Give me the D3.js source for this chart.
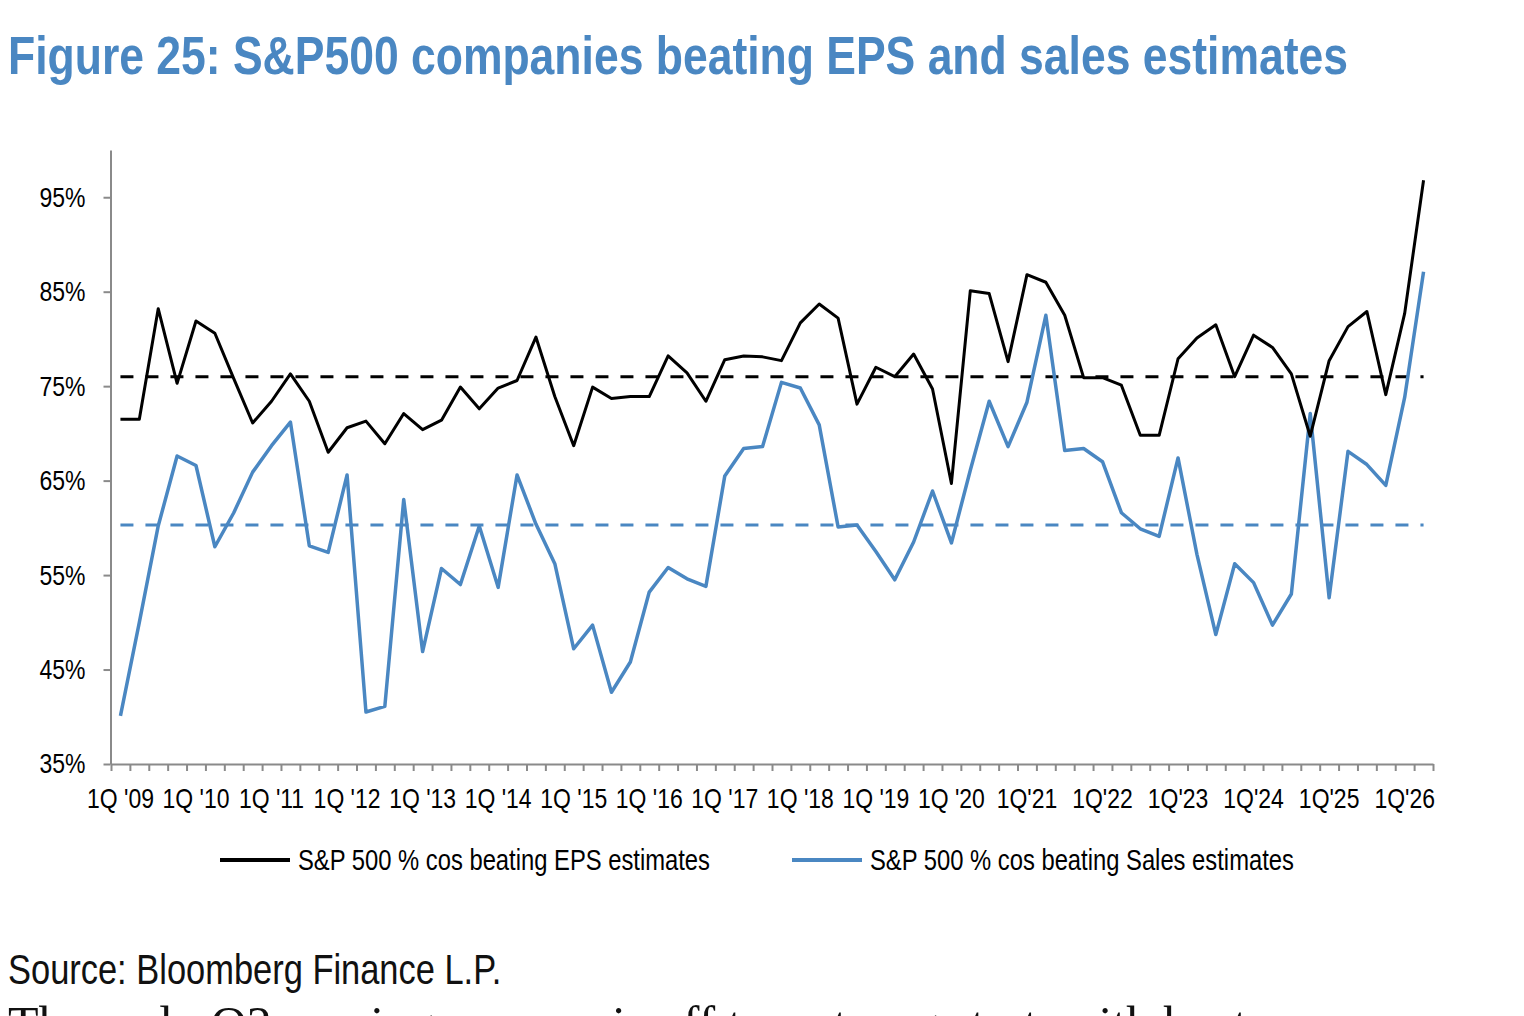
<!DOCTYPE html>
<html>
<head>
<meta charset="utf-8">
<script src="https://cdn.jsdelivr.net/npm/d3@7"></script>
<style>
  body { margin: 0; background: #fff; }
  svg { display: block; }
  .narrow { font-family: "Liberation Sans Narrow", "Arial Narrow", "Liberation Sans", Arial, sans-serif; }
</style>
</head>
<body>
<div id="chart"></div>
<script>
// quarters 1Q'09 .. 2Q'26
const years = d3.range(2009, 2027);
const quarters = years.flatMap(y => [1, 2, 3, 4].map(q => q + "Q" + y)).slice(0, 70);

const yearLabels = ["1Q '09", "1Q '10", "1Q '11", "1Q '12", "1Q '13", "1Q '14", "1Q '15", "1Q '16", "1Q '17",
  "1Q '18", "1Q '19", "1Q '20", "1Q'21", "1Q'22", "1Q'23", "1Q'24", "1Q'25", "1Q'26"];

const yTicks = [35, 45, 55, 65, 75, 85, 95];

const epsBeat = [
  71.5, 71.5, 83.2, 75.3, 81.9, 80.6, 75.8, 71.1, 73.4, 76.3,
  73.4, 68.0, 70.6, 71.3, 68.9, 72.1, 70.4, 71.4, 74.9, 72.6,
  74.8, 75.6, 80.2, 73.9, 68.7, 74.9, 73.7, 73.9, 73.9, 78.2,
  76.4, 73.4, 77.8, 78.2, 78.1, 77.7, 81.7, 83.7, 82.2, 73.1,
  77.0, 76.0, 78.4, 74.7, 64.7, 85.1, 84.8, 77.6, 86.8, 86.0,
  82.5, 75.9, 75.9, 75.1, 69.8, 69.8, 77.9, 80.1, 81.5, 76.0,
  80.4, 79.1, 76.3, 69.7, 77.7, 81.3, 82.9, 74.1, 82.7, 96.8
];

const salesBeat = [
  40.1, 50.0, 60.2, 67.6, 66.6, 58.0, 61.6, 65.9, 68.7, 71.2,
  58.1, 57.4, 65.6, 40.5, 41.1, 63.0, 46.9, 55.7, 54.0, 60.2,
  53.7, 65.6, 60.4, 56.2, 47.2, 49.7, 42.6, 45.8, 53.2, 55.8,
  54.6, 53.8, 65.5, 68.4, 68.6, 75.4, 74.8, 70.9, 60.1, 60.3,
  57.5, 54.5, 58.5, 63.9, 58.4, 66.1, 73.4, 68.6, 73.3, 82.5,
  68.2, 68.4, 67.0, 61.6, 59.9, 59.1, 67.4, 57.2, 48.7, 56.2,
  54.2, 49.7, 53.0, 72.1, 52.6, 68.1, 66.7, 64.5, 73.8, 87.1
];

// long-run averages (dashed)
const epsAvg = 76.0;
const salesAvg = 60.3;

const blue = "#4a87c2";
const axisGrey = "#8a8a8a";

const width = 1524, height = 1016;
const plot = { left: 111, right: 1433, top: 150, bottom: 764 };

const svg = d3.select("#chart").append("svg")
  .attr("width", width)
  .attr("height", height);

// Title
svg.append("text")
  .attr("class", "narrow")
  .attr("x", 8)
  .attr("y", 74)
  .attr("font-size", 54)
  .attr("font-weight", "bold")
  .attr("fill", blue)
  .attr("textLength", 1340)
  .attr("lengthAdjust", "spacingAndGlyphs")
  .text("Figure 25: S&P500 companies beating EPS and sales estimates");

// Scales
const x = d3.scaleBand()
  .domain(quarters)
  .range([plot.left, plot.right])
  .padding(0);

const xEdge = d3.scaleLinear()
  .domain([0, quarters.length])
  .range([plot.left, plot.right]);

const y = d3.scaleLinear()
  .domain([35, 100])
  .range([plot.bottom, plot.top]);

const cx = d => x(d) + x.bandwidth() / 2;

// Y axis
const yAxis = svg.append("g")
  .attr("transform", `translate(${plot.left - 0.5},0)`)
  .call(d3.axisLeft(y).tickValues(yTicks).tickSize(7).tickSizeOuter(0).tickPadding(18).tickFormat(d => d + "%"));
yAxis.select(".domain").attr("stroke", axisGrey).attr("stroke-width", 2);
yAxis.selectAll(".tick line").attr("stroke", axisGrey).attr("stroke-width", 2);
yAxis.selectAll("text").attr("class", "narrow").attr("font-size", 28).attr("fill", "#000");

// X axis: quarterly tick marks at band edges
const xTicks = svg.append("g")
  .attr("transform", `translate(0,${plot.bottom})`)
  .call(d3.axisBottom(xEdge).tickValues(d3.range(quarters.length + 1)).tickSize(7).tickSizeOuter(0).tickFormat(""));
xTicks.select(".domain").attr("stroke", axisGrey).attr("stroke-width", 2);
xTicks.selectAll(".tick line").attr("stroke", axisGrey).attr("stroke-width", 2);

// X axis labels: every 1Q, centred on the category
const firstQs = quarters.filter((q, i) => i % 4 === 0);
const xLabels = svg.append("g")
  .attr("transform", `translate(0,${plot.bottom})`)
  .call(d3.axisBottom(x).tickValues(firstQs).tickSize(0).tickPadding(24)
    .tickFormat((d, i) => yearLabels[i]));
xLabels.select(".domain").remove();
xLabels.selectAll("text").attr("class", "narrow").attr("font-size", 28).attr("fill", "#000");

// Average lines
const avgLine = (val, color) => svg.append("line")
  .attr("x1", cx(quarters[0]))
  .attr("x2", cx(quarters[quarters.length - 1]))
  .attr("y1", y(val))
  .attr("y2", y(val))
  .attr("stroke", color)
  .attr("stroke-width", 3)
  .attr("stroke-dasharray", "13,12");

avgLine(epsAvg, "#000");
avgLine(salesAvg, blue);

// Series lines
const line = d3.line()
  .x((d, i) => cx(quarters[i]))
  .y(d => y(d));

svg.append("path")
  .datum(salesBeat)
  .attr("fill", "none")
  .attr("stroke", blue)
  .attr("stroke-width", 3.5)
  .attr("stroke-linejoin", "round")
  .attr("d", line);

svg.append("path")
  .datum(epsBeat)
  .attr("fill", "none")
  .attr("stroke", "#000")
  .attr("stroke-width", 3)
  .attr("stroke-linejoin", "round")
  .attr("d", line);

// Legend
const legend = [
  { label: "S&P 500 % cos beating EPS estimates", color: "#000", x: 220 },
  { label: "S&P 500 % cos beating Sales estimates", color: blue, x: 792 }
];
const lg = svg.append("g").selectAll("g")
  .data(legend)
  .join("g")
  .attr("transform", d => `translate(${d.x},860)`);
lg.append("line")
  .attr("x1", 0).attr("x2", 70)
  .attr("stroke", d => d.color)
  .attr("stroke-width", 4);
lg.append("text")
  .attr("class", "narrow")
  .attr("x", 78)
  .attr("y", 10)
  .attr("font-size", 29)
  .attr("fill", "#000")
  .text(d => d.label);

// Source
svg.append("text")
  .attr("class", "narrow")
  .attr("x", 8)
  .attr("y", 984)
  .attr("font-size", 42)
  .attr("fill", "#111")
  .text("Source: Bloomberg Finance L.P.");

// body text cut off by the bottom edge
svg.append("text")
  .attr("x", 8)
  .attr("y", 1041)
  .attr("font-family", "'Liberation Serif', 'Times New Roman', serif")
  .attr("font-size", 50)
  .attr("fill", "#111")
  .text("The early Q2 earnings season is off to a strong start, with beats");

// if no narrow face is installed, squeeze the regular one
const probe = svg.append("text").attr("font-size", 100).text("Bloomberg 500 %");
probe.attr("font-family", "'Liberation Sans Narrow', monospace");
const wNarrow = probe.node().getComputedTextLength();
probe.attr("font-family", "monospace");
const wMono = probe.node().getComputedTextLength();
probe.remove();
if (Math.abs(wNarrow - wMono) < 1) {
  svg.selectAll("text.narrow").each(function () {
    if (d3.select(this).attr("textLength")) return;
    const w = this.getComputedTextLength();
    d3.select(this).attr("textLength", w * 0.82).attr("lengthAdjust", "spacingAndGlyphs");
  });
}
</script>
</body>
</html>
